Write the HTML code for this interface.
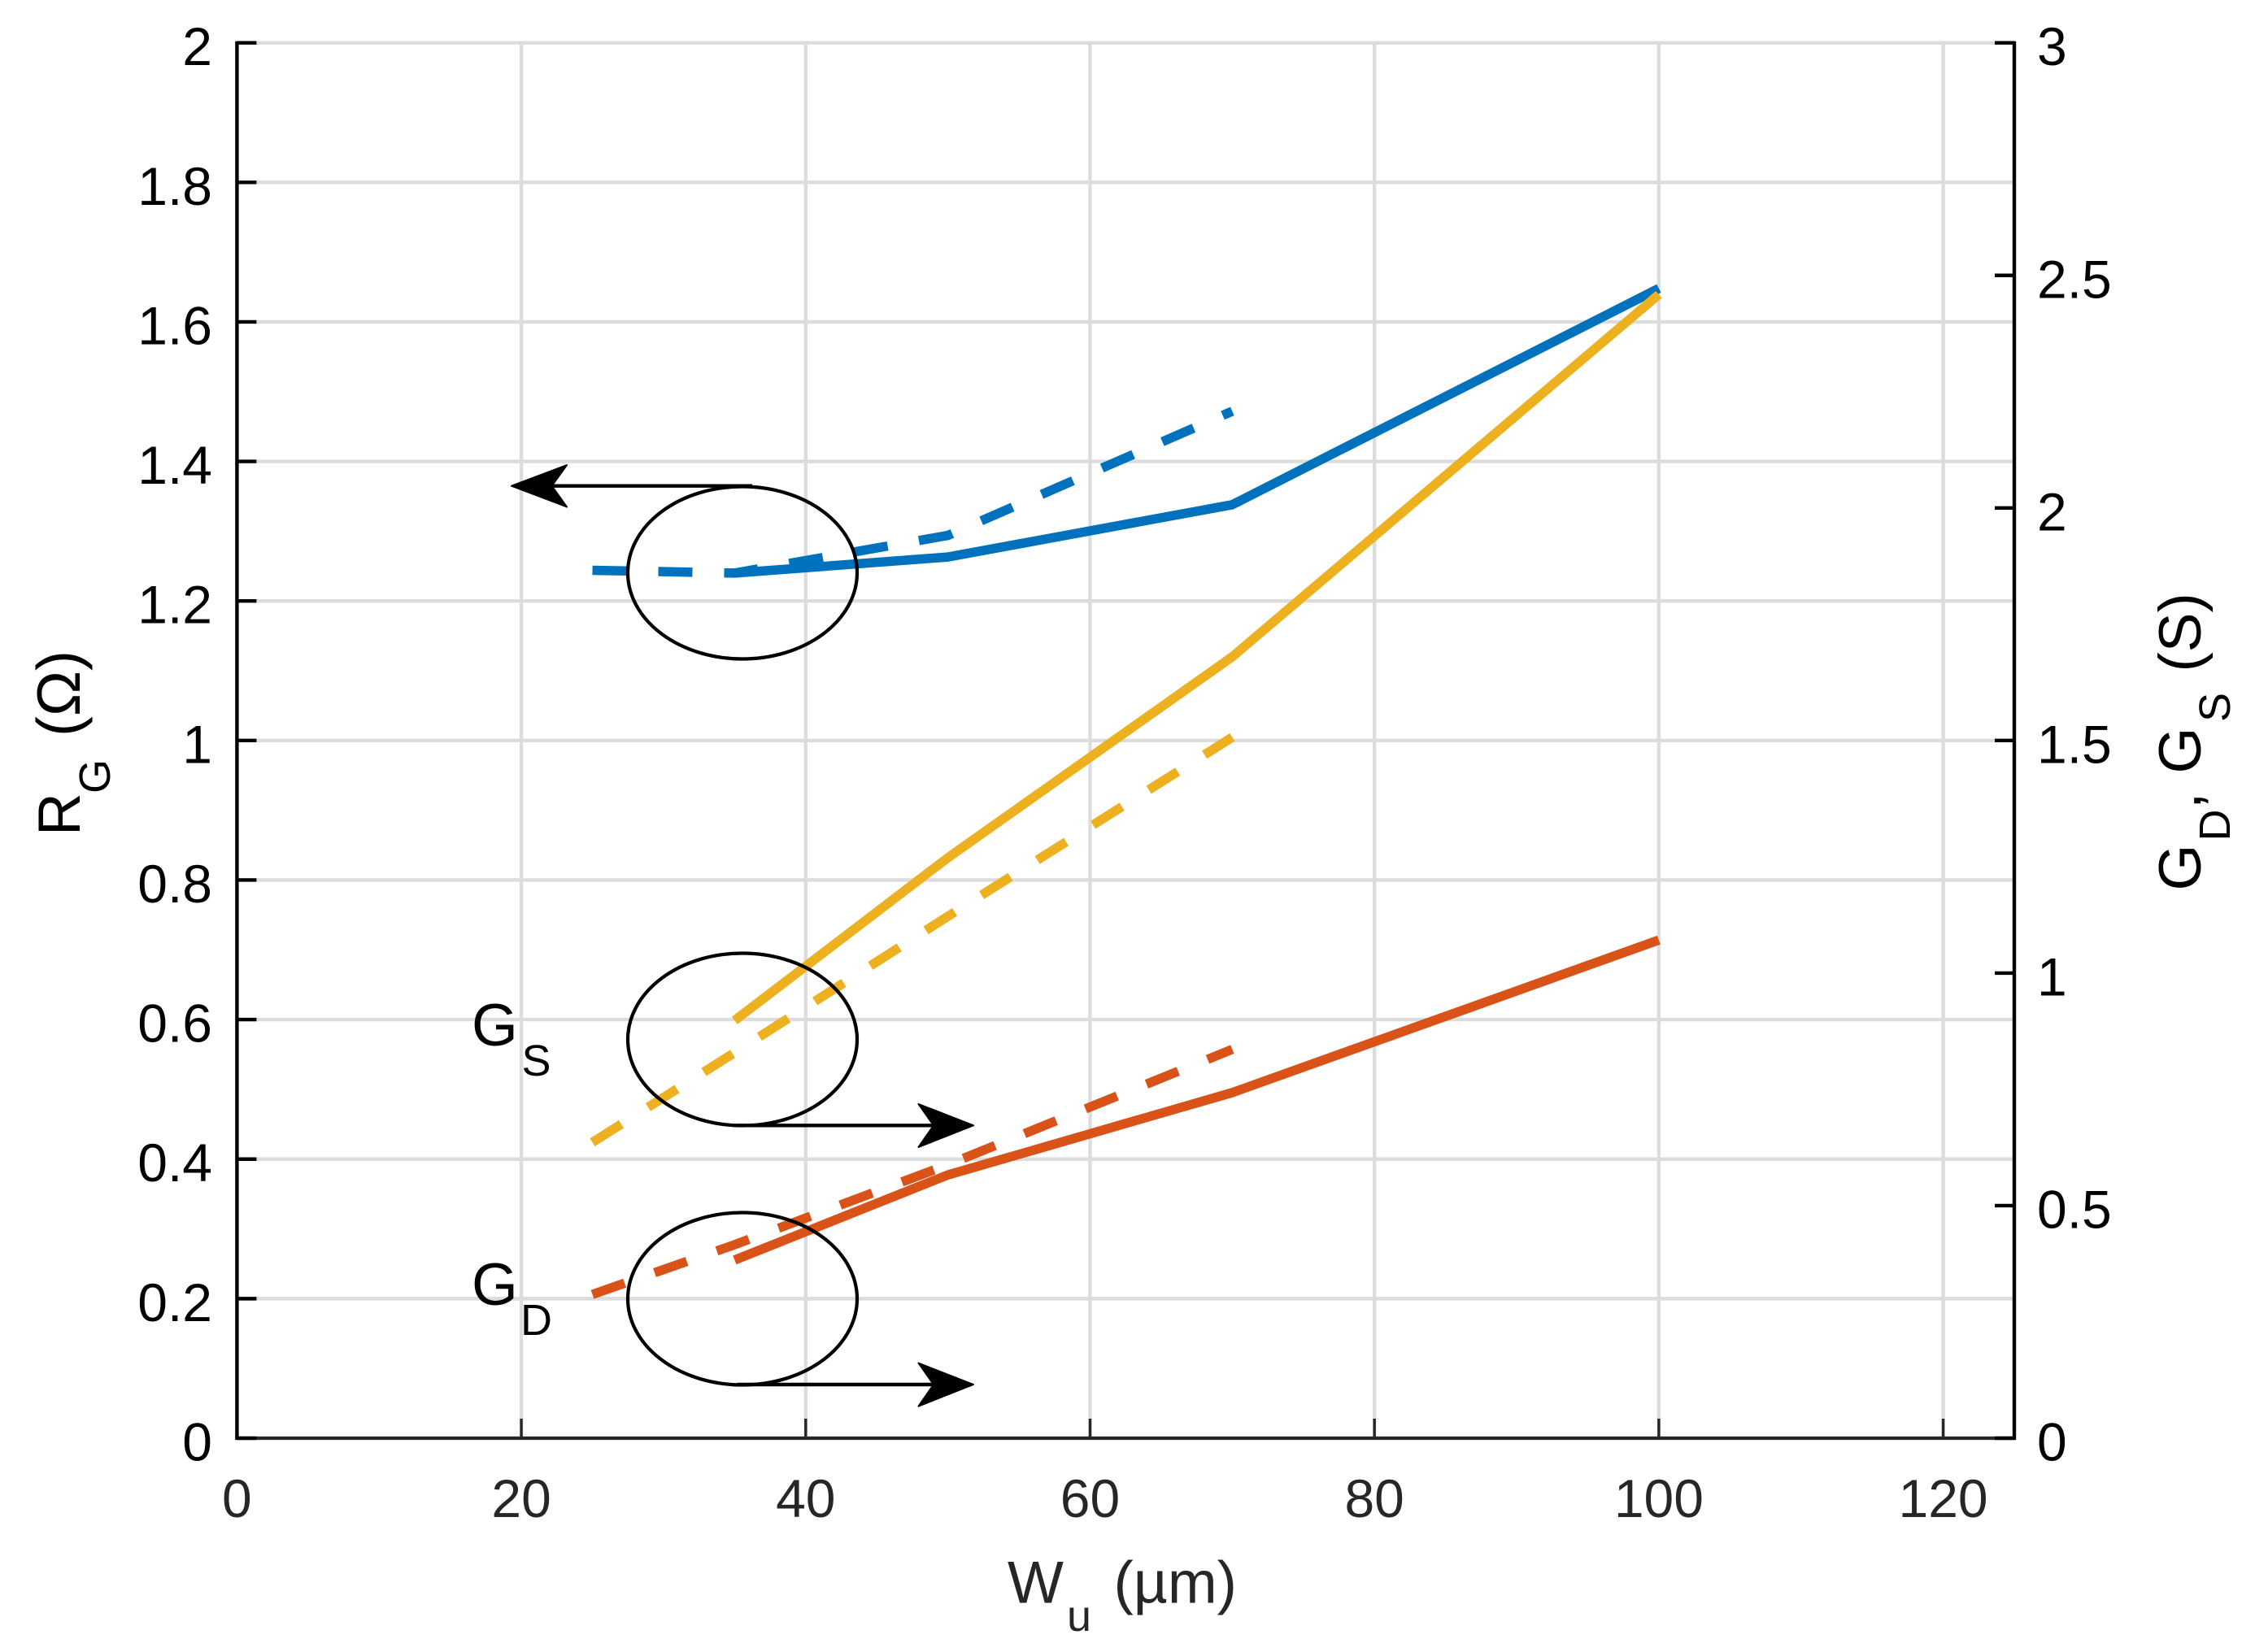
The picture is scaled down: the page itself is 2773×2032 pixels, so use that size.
<!DOCTYPE html>
<html lang="en">
<head>
<meta charset="utf-8">
<title>RG, GD, GS versus Wu</title>
<style>
html,body{margin:0;padding:0;background:#fff;}
svg{display:block;}
text{font-family:"Liberation Sans",Arial,sans-serif;}
</style>
</head>
<body>
<svg id="chart" xmlns="http://www.w3.org/2000/svg" width="2773" height="2032" viewBox="0 0 2773 2032">
  <rect x="0" y="0" width="2773" height="2032" fill="#ffffff"/>
  <g id="grid"></g>
  <g id="series"></g>
  <g id="axes"></g>

  <g>
    <ellipse cx="913" cy="704.5" rx="141" ry="106" fill="none" stroke="#000" stroke-width="4.2"/>
    <line x1="925" y1="597.7" x2="670" y2="597.7" stroke="#000" stroke-width="4.4"/>
    <polygon points="629,597.7 697,572 678.6,597.7 697,623.5" fill="#000" stroke="#000" stroke-width="2" stroke-linejoin="round"/>
  </g>
  <g>
    <ellipse cx="913" cy="1278.5" rx="141" ry="106" fill="none" stroke="#000" stroke-width="4.2"/>
    <line x1="907" y1="1384.3" x2="1156" y2="1384.3" stroke="#000" stroke-width="4.4"/>
    <polygon points="1197,1384.3 1129.5,1358 1148,1384.3 1129.5,1411" fill="#000" stroke="#000" stroke-width="2" stroke-linejoin="round"/>
    <text fill="#000"><tspan x="580" y="1286" font-size="73">G</tspan><tspan x="641.5" y="1323" font-size="54">S</tspan></text>
  </g>
  <g>
    <ellipse cx="913" cy="1597.5" rx="141" ry="106" fill="none" stroke="#000" stroke-width="4.2"/>
    <line x1="907" y1="1703" x2="1156" y2="1703" stroke="#000" stroke-width="4.4"/>
    <polygon points="1197,1703 1129.5,1676.7 1148,1703 1129.5,1729.7" fill="#000" stroke="#000" stroke-width="2" stroke-linejoin="round"/>
    <text fill="#000"><tspan x="580" y="1605" font-size="73">G</tspan><tspan x="640" y="1642" font-size="54">D</tspan></text>
  </g>

  <text fill="#262626"><tspan x="1239" y="1971.7" font-size="73">W</tspan><tspan x="1312" y="2006" font-size="54">u</tspan><tspan x="1369.5" y="1971.7" font-size="73">(µm)</tspan></text>
  <text fill="#000" transform="rotate(-90)"><tspan x="-1028" y="98" font-size="73">R</tspan><tspan x="-976" y="135" font-size="54">G</tspan><tspan x="-906" y="98" font-size="75">(Ω)</tspan></text>
  <text fill="#000" transform="rotate(-90)"><tspan x="-1095.5" y="2706" font-size="73">G</tspan><tspan x="-1034.5" y="2742" font-size="54">D</tspan><tspan x="-995" y="2706" font-size="73">,</tspan><tspan x="-951.5" y="2706" font-size="73">G</tspan><tspan x="-888" y="2742" font-size="54">S</tspan><tspan x="-826.5" y="2706" font-size="73">(S)</tspan></text>
</svg>
<script>
// Chart data
const xTicks = [0, 20, 40, 60, 80, 100, 120];
const xTickLabels = ['0', '20', '40', '60', '80', '100', '120'];
const leftTicks = [0, 0.2, 0.4, 0.6, 0.8, 1, 1.2, 1.4, 1.6, 1.8, 2];
const leftTickLabels = ['0', '0.2', '0.4', '0.6', '0.8', '1', '1.2', '1.4', '1.6', '1.8', '2'];
const rightTicks = [0, 0.5, 1, 1.5, 2, 2.5, 3];
const rightTickLabels = ['0', '0.5', '1', '1.5', '2', '2.5', '3'];

const widthsSolid = [35, 50, 70, 100];
const widthsDashed = [25, 35, 50, 70];
const rgSolid = [1.24, 1.263, 1.338, 1.648];
const rgDashed = [1.244, 1.24, 1.294, 1.472];
const gdSolid = [0.383, 0.566, 0.743, 1.071];
const gdDashed = [0.309, 0.416, 0.588, 0.836];
const gsSolid = [0.898, 1.248, 1.68, 2.459];
const gsDashed = [0.636, 0.829, 1.122, 1.507];

const NS = 'http://www.w3.org/2000/svg';
const plotLeft = 291.4, plotRight = 2477, plotTop = 52.7, plotBottom = 1769;
const xMax = 125, leftMax = 2, rightMax = 3;
const tickLen = 24;

function xScale(v) { return plotLeft + (v / xMax) * (plotRight - plotLeft); }
function leftScale(v) { return plotBottom - (v / leftMax) * (plotBottom - plotTop); }
function rightScale(v) { return plotBottom - (v / rightMax) * (plotBottom - plotTop); }

function makeLine(parent, x1, y1, x2, y2, color, width) {
  const el = document.createElementNS(NS, 'line');
  el.setAttribute('x1', x1);
  el.setAttribute('y1', y1);
  el.setAttribute('x2', x2);
  el.setAttribute('y2', y2);
  el.setAttribute('stroke', color);
  el.setAttribute('stroke-width', width);
  parent.appendChild(el);
  return el;
}
function makeText(parent, x, y, anchor, color, content) {
  const el = document.createElementNS(NS, 'text');
  el.setAttribute('x', x);
  el.setAttribute('y', y);
  el.setAttribute('text-anchor', anchor);
  el.setAttribute('fill', color);
  el.setAttribute('font-size', '66');
  el.textContent = content;
  parent.appendChild(el);
  return el;
}
function makeSeries(parent, xs, ys, scale, color, dashed) {
  const el = document.createElementNS(NS, 'polyline');
  el.setAttribute('points', xs.map(function (x, i) { return xScale(x) + ',' + scale(ys[i]); }).join(' '));
  el.setAttribute('fill', 'none');
  el.setAttribute('stroke', color);
  el.setAttribute('stroke-width', '11.5');
  el.setAttribute('stroke-linejoin', 'round');
  if (dashed) el.setAttribute('stroke-dasharray', '42 39');
  parent.appendChild(el);
  return el;
}

const grid = document.getElementById('grid');
const axes = document.getElementById('axes');
const series = document.getElementById('series');
const gridColor = '#dcdcdc';

xTicks.forEach(function (v) {
  if (v === 0) return;
  const el = makeLine(grid, xScale(v), plotTop, xScale(v), plotBottom, gridColor, 4.4);
  
  
});
leftTicks.forEach(function (v) {
  if (v === 0) return;
  const el = makeLine(grid, plotLeft, leftScale(v), plotRight, leftScale(v), gridColor, 4.4);
  
  
});

const blue = '#0072BD', orange = '#D95319', yellow = '#EDB120';

const s1 = makeSeries(series, widthsSolid, rgSolid, leftScale, blue, false);


const s2 = makeSeries(series, widthsDashed, rgDashed, leftScale, blue, true);


const s3 = makeSeries(series, widthsSolid, gdSolid, rightScale, orange, false);


const s4 = makeSeries(series, widthsDashed, gdDashed, rightScale, orange, true);


const s5 = makeSeries(series, widthsSolid, gsSolid, rightScale, yellow, false);


const s6 = makeSeries(series, widthsDashed, gsDashed, rightScale, yellow, true);



const xAxisLine = makeLine(axes, plotLeft - 2, plotBottom, plotRight + 2, plotBottom, '#262626', 4.2);


const leftAxisLine = makeLine(axes, plotLeft, plotTop - 2, plotLeft, plotBottom + 2, '#000', 4.4);


const rightAxisLine = makeLine(axes, plotRight, plotTop - 2, plotRight, plotBottom + 2, '#000', 4.4);



xTicks.forEach(function (v, i) {
  if (v !== 0) {
    const tick = makeLine(axes, xScale(v), plotBottom, xScale(v), plotBottom - tickLen, '#262626', 3.4);
    
    
  }
  const label = makeText(axes, xScale(v), 1866, 'middle', '#262626', xTickLabels[i]);
  
  
});
leftTicks.forEach(function (v, i) {
  const tick = makeLine(axes, plotLeft, leftScale(v), plotLeft + tickLen, leftScale(v), '#000', 4.4);
  
  
  const label = makeText(axes, 261, leftScale(v) + 27.5, 'end', '#000', leftTickLabels[i]);
  
  
});
rightTicks.forEach(function (v, i) {
  const tick = makeLine(axes, plotRight, rightScale(v), plotRight - tickLen, rightScale(v), '#000', 4.4);
  
  
  const label = makeText(axes, 2505, rightScale(v) + 27.5, 'start', '#000', rightTickLabels[i]);
  
  
});
</script>
</body>
</html>
